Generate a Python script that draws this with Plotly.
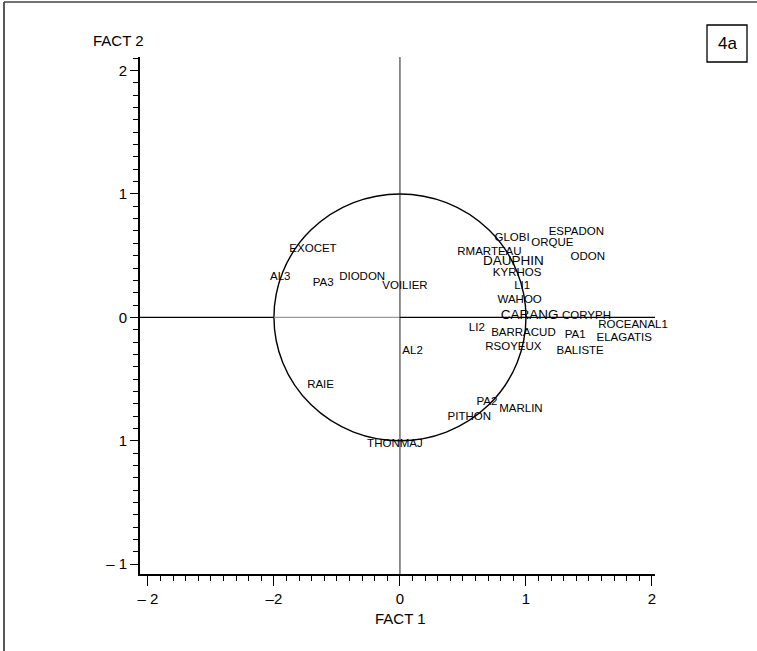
import plotly.graph_objects as go

# Factor-plane coordinates of each species / variable label
labels = ["EXOCET", "AL3", "PA3", "DIODON", "VOILIER", "RMARTEAU", "GLOBI",
          "ORQUE", "ESPADON", "DAUPHIN", "ODON", "KYRHOS", "LI1", "WAHOO",
          "CARANG", "CORYPH", "ROCEANAL1", "LI2", "BARRACUD", "PA1",
          "ELAGATIS", "RSOYEUX", "BALISTE", "AL2", "RAIE", "PA2", "MARLIN",
          "PITHON", "THONMAJ"]
fact1 = [-0.69, -0.95, -0.61, -0.30, 0.04, 0.71, 0.89,
         1.21, 1.40, 0.90, 1.49, 0.93, 0.97, 0.95,
         1.03, 1.48, 1.85, 0.61, 0.98, 1.39,
         1.78, 0.90, 1.43, 0.10, -0.63, 0.69, 0.96,
         0.55, -0.04]
fact2 = [0.55, 0.33, 0.28, 0.33, 0.25, 0.53, 0.64,
         0.60, 0.69, 0.45, 0.49, 0.36, 0.25, 0.14,
         0.01, 0.01, -0.06, -0.09, -0.13, -0.14,
         -0.17, -0.24, -0.27, -0.27, -0.55, -0.69, -0.74,
         -0.81, -1.03]
emphasised = ["DAUPHIN", "CARANG"]

x_ticks = [-2, -1, 0, 1, 2]
x_ticktext = ["– 2", "–2", "0", "1", "2"]
y_ticks = [2, 1, 0, -1, -2]
y_ticktext = ["2", "1", "0", "1", "– 1"]

x_range = [-2.063, 2.024]
y_range = [-2.08, 2.11]

FONT = "Liberation Sans, Arial, Helvetica, sans-serif"

sizes = [13.5 if lab in emphasised else 11.5 for lab in labels]

fig = go.Figure()
fig.add_trace(go.Scatter(
    x=fact1, y=fact2, text=labels, mode="text",
    textposition="middle center", cliponaxis=False,
    textfont=dict(family=FONT, size=sizes, color="black"),
    hoverinfo="text", showlegend=False,
))

# Correlation circle of radius 1
fig.add_shape(type="circle", xref="x", yref="y", x0=-1, y0=-1, x1=1, y1=1,
              line=dict(color="black", width=1.4), layer="below")

# Origin cross-hairs
fig.add_shape(type="line", xref="x", yref="y", x0=x_range[0], x1=-1, y0=0, y1=0,
              line=dict(color="black", width=1.3), layer="below")
fig.add_shape(type="line", xref="x", yref="y", x0=-1, x1=0, y0=0, y1=0,
              line=dict(color="#9a9a9a", width=1.2), layer="below")
fig.add_shape(type="line", xref="x", yref="y", x0=0, x1=x_range[1], y0=0, y1=0,
              line=dict(color="black", width=1.3), layer="below")
fig.add_shape(type="line", xref="x", yref="y", x0=0, x1=0, y0=y_range[0], y1=y_range[1],
              line=dict(color="#222222", width=1), layer="below")

# Plot-area geometry in pixels, used for the paper-referenced decorations
L, R, T, B = 140, 655, 57, 574
W, H = 757, 651


def px(xp):
    return (xp - L) / (R - L)


def py(yp):
    return (B - yp) / (B - T)


# Page frame (left and top edges)
fig.add_shape(type="line", xref="paper", yref="paper",
              x0=px(4), x1=px(4), y0=py(2), y1=py(651),
              line=dict(color="#222222", width=1.5))
fig.add_shape(type="line", xref="paper", yref="paper",
              x0=px(4), x1=px(757), y0=py(2), y1=py(2),
              line=dict(color="#444444", width=1.5))

# Panel tag
fig.add_shape(type="rect", xref="paper", yref="paper",
              x0=px(707), x1=px(747), y0=py(62), y1=py(25),
              line=dict(color="black", width=1.3), fillcolor="white")

centred = dict(showarrow=False, xanchor="center", yanchor="middle",
               xref="paper", yref="paper")
fig.add_annotation(x=px(727), y=py(43.5), text="4a",
                   font=dict(family=FONT, size=17, color="black"), **centred)

# Axis titles
fig.add_annotation(x=px(400), y=py(618), text="FACT 1",
                   font=dict(family=FONT, size=15, color="black"), **centred)
fig.add_annotation(x=px(118), y=py(41), text="FACT 2",
                   font=dict(family=FONT, size=15, color="black"), **centred)

axis_common = dict(
    showgrid=False, zeroline=False, showline=True, linecolor="black",
    linewidth=1.6, ticks="outside", tickcolor="black", tickwidth=1.4,
    tickfont=dict(family=FONT, size=15, color="black"),
)

fig.update_xaxes(range=x_range, tickvals=x_ticks, ticktext=x_ticktext,
                 ticklen=10,
                 minor=dict(dtick=0.1, tick0=0, ticks="outside", ticklen=5,
                            tickcolor="black", tickwidth=1.3, showgrid=False),
                 **axis_common)
fig.update_yaxes(range=y_range, tickvals=y_ticks, ticktext=y_ticktext,
                 ticklen=8,
                 minor=dict(dtick=0.1, tick0=0, ticks="outside", ticklen=5,
                            tickcolor="black", tickwidth=1.3, showgrid=False),
                 **axis_common)

fig.update_layout(
    width=W, height=H,
    margin=dict(l=L, r=W - R, t=T, b=H - B, pad=0),
    paper_bgcolor="white", plot_bgcolor="white",
    showlegend=False,
)

fig.write_html("out.html")
